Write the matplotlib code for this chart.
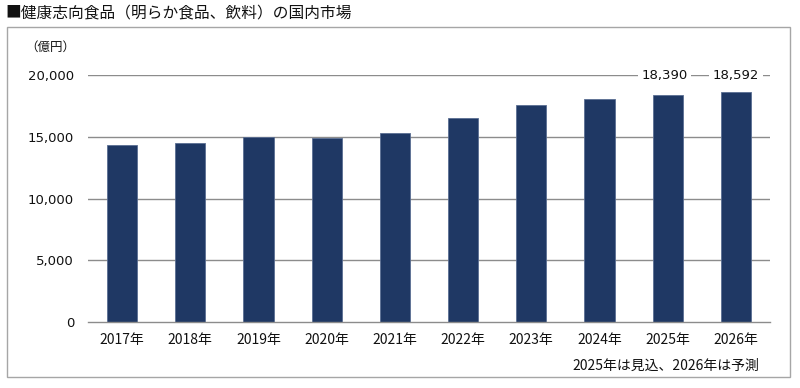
import matplotlib

matplotlib.use("Agg")
import matplotlib.pyplot as plt
from matplotlib.patches import Rectangle

plt.rcParams["font.family"] = ["DejaVu Sans", "Noto Sans CJK JP"]

years = ["2017年", "2018年", "2019年", "2020年", "2021年",
         "2022年", "2023年", "2024年", "2025年", "2026年"]
values = [14300, 14520, 14950, 14870, 15330, 16490, 17570, 18060, 18390, 18592]
labeled = {8: "18,390", 9: "18,592"}
yticks = [0, 5000, 10000, 15000, 20000]
ytick_labels = ["0", "5,000", "10,000", "15,000", "20,000"]

jp = ["Noto Sans CJK JP", "DejaVu Sans"]
bar_color = "#1f3864"
grid_color = "#8c8c8c"

fig = plt.figure(figsize=(8, 3.88), dpi=100)
ax = fig.add_axes([88 / 800, 1 - 322 / 388, 682 / 800, 247 / 388])

ax.set_axisbelow(True)
for t in yticks[1:]:
    ax.axhline(t, color=grid_color, linewidth=1.0, zorder=0)

x = list(range(len(years)))
ax.bar(x, values, width=0.44, color=bar_color, edgecolor="#5a6e92",
       linewidth=0.6, zorder=2)

ax.set_xlim(-0.5, len(years) - 0.5)
ax.set_ylim(0, 20000)
ax.set_yticks(yticks)
ax.set_yticklabels(ytick_labels, fontsize=9.5, color="#111111")
ax.set_xticks(x)
ax.set_xticklabels(years, family=jp, fontsize=10, color="#111111")
ax.tick_params(axis="both", length=0)
ax.tick_params(axis="y", pad=10)
ax.tick_params(axis="x", pad=8)
for s in ["top", "right", "left"]:
    ax.spines[s].set_visible(False)
ax.spines["bottom"].set_color(grid_color)
ax.spines["bottom"].set_linewidth(1.0)

for i, lab in labeled.items():
    ax.text(i - 0.05 if i == 8 else i, 20000, lab, ha="center", va="center",
            fontsize=9.5, color="#111111", zorder=3, clip_on=False,
            bbox=dict(facecolor="white", edgecolor="none", pad=2.5))

fig.text(25 / 800, 1 - 47 / 388, "（億円）", family=jp, fontsize=9,
         ha="left", va="center", color="#111111")
fig.text(759 / 800, 1 - 366 / 388, "2025年は見込、2026年は予測", family=jp,
         fontsize=10, ha="right", va="center", color="#111111")

fig.text(5 / 800, 1 - 13 / 388, "■健康志向食品（明らか食品、飲料）の国内市場",
         family=jp, fontsize=11.3, ha="left", va="center", color="#111111")

fig.patches.append(Rectangle((7 / 800, 1 - 377 / 388), 783 / 800, 350 / 388,
                             transform=fig.transFigure, fill=False,
                             edgecolor="#a6a6a6", linewidth=1.0))

fig.savefig("out.png", dpi=100)
